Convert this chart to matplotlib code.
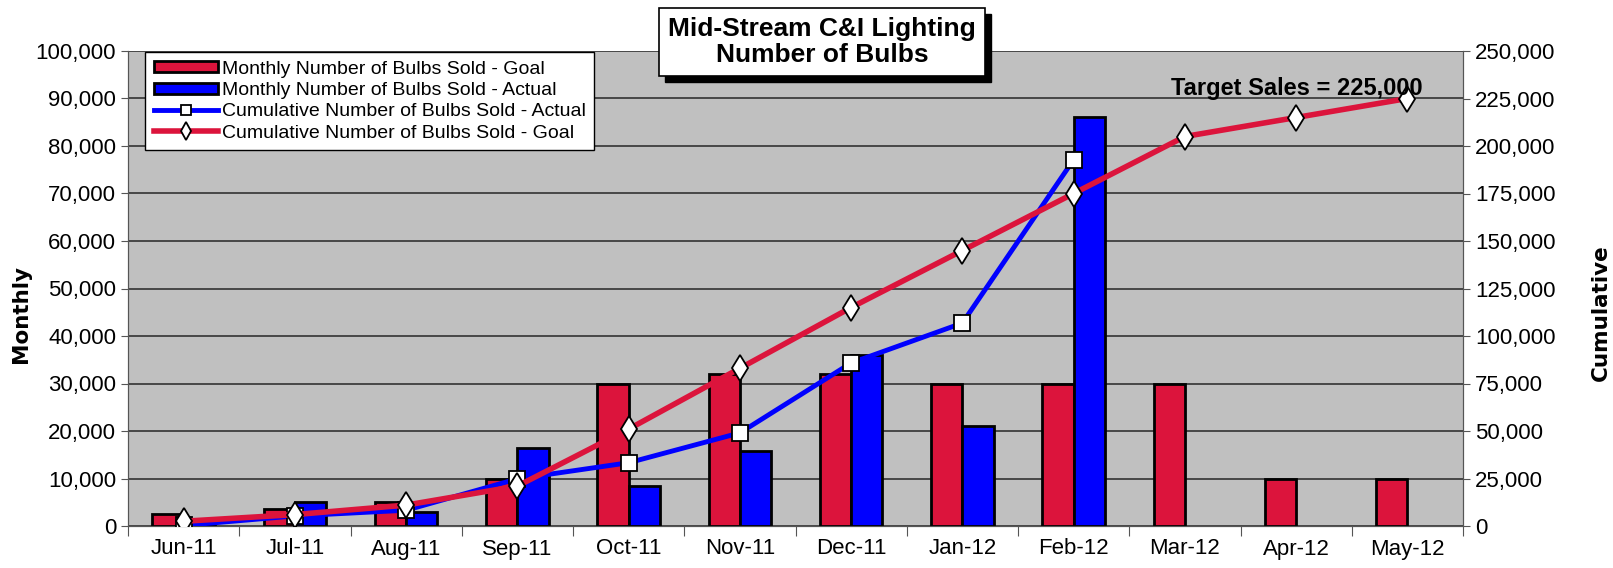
import matplotlib
matplotlib.use("Agg")
import matplotlib.pyplot as plt
import numpy as np
from matplotlib.patches import Rectangle
from matplotlib.ticker import FuncFormatter, MultipleLocator

plt.rcParams["font.family"] = ["Liberation Sans", "DejaVu Sans"]

months = ["Jun-11", "Jul-11", "Aug-11", "Sep-11", "Oct-11", "Nov-11",
          "Dec-11", "Jan-12", "Feb-12", "Mar-12", "Apr-12", "May-12"]
monthly_goal = [2500, 3500, 5000, 10000, 30000, 32000, 32000, 30000, 30000, 30000, 10000, 10000]
monthly_actual = [300, 5000, 3000, 16500, 8500, 15700, 36000, 21000, 86000]
cum_actual = [300, 5300, 8300, 24800, 33300, 49000, 85800, 106800, 192800]
cum_goal = [2500, 6000, 11000, 21000, 51000, 83000, 115000, 145000, 175000, 205000, 215000, 225000]

W, H = 1613, 568
fig = plt.figure(figsize=(W / 100, H / 100), dpi=100)
ax = fig.add_axes([128 / W, 1 - 526 / H, (1463 - 128) / W, (526 - 51) / H])
ax.set_facecolor("#C0C0C0")
ax2 = ax.twinx()

x = np.arange(len(months)) + 0.5
bw = 0.28
ax.bar(x[:len(monthly_goal)] - bw / 2, monthly_goal, bw, color="#DC143C",
       edgecolor="black", linewidth=2, zorder=3, label="Monthly Number of Bulbs Sold - Goal")
ax.bar(x[:len(monthly_actual)] + bw / 2, monthly_actual, bw, color="#0000FF",
       edgecolor="black", linewidth=2, zorder=3, label="Monthly Number of Bulbs Sold - Actual")

la, = ax2.plot(x[:len(cum_actual)], cum_actual, color="#0000FF", lw=3.5,
               marker="s", ms=11, mfc="white", mec="black", mew=1.3,
               label="Cumulative Number of Bulbs Sold - Actual", zorder=4)
lg, = ax2.plot(x[:len(cum_goal)], cum_goal, color="#DC143C", lw=4,
               marker="d", ms=13, mfc="white", mec="black", mew=1.3,
               label="Cumulative Number of Bulbs Sold - Goal", zorder=5)

ax.set_xlim(0, 12)
ax.set_ylim(0, 100000)
ax2.set_ylim(0, 250000)
ax.yaxis.set_major_locator(MultipleLocator(10000))
ax2.yaxis.set_major_locator(MultipleLocator(25000))
fmt = FuncFormatter(lambda v, p: f"{int(v):,}")
ax.yaxis.set_major_formatter(fmt)
ax2.yaxis.set_major_formatter(fmt)
ax.grid(axis="y", color="#333333", lw=1.2, zorder=0)
ax.set_axisbelow(True)

ax.set_xticks(np.arange(0, 13), minor=False)
ax.set_xticklabels([])
ax.set_xticks(x, minor=True)
ax.set_xticklabels(months, minor=True)
ax.tick_params(axis="x", which="major", length=7, direction="out", color="#555555")
ax.tick_params(axis="x", which="minor", length=0, pad=9, labelsize=16)
ax.tick_params(axis="y", length=5, labelsize=16, color="#555555")
ax2.tick_params(axis="y", length=5, labelsize=16, color="#555555")

for a in (ax, ax2):
    a.spines["top"].set_visible(False)
    for s in ("left", "right", "bottom"):
        a.spines[s].set_color("#555555")

fig.text(21 / W, 1 - 314 / H, "Monthly", rotation=90, ha="center", va="center",
         fontsize=15.5, fontweight="bold", family="DejaVu Sans")
fig.text(1601 / W, 1 - 313 / H, "Cumulative", rotation=90, ha="center", va="center",
         fontsize=15.5, fontweight="bold", family="DejaVu Sans")

ax2.text(11.64, 230500, "Target Sales = 225,000", ha="right", va="center",
         fontsize=17, fontweight="bold", zorder=6)

# title box with shadow
bx0, by0, bx1, by1 = 659, 8, 985, 76
fig.patches.append(Rectangle((bx0 / W + 6 / W, 1 - by1 / H - 6 / H), (bx1 - bx0) / W, (by1 - by0) / H,
                             transform=fig.transFigure, facecolor="black", edgecolor="black", zorder=10))
fig.patches.append(Rectangle((bx0 / W, 1 - by1 / H), (bx1 - bx0) / W, (by1 - by0) / H,
                             transform=fig.transFigure, facecolor="white", edgecolor="black", lw=1.2, zorder=11))
fig.text((bx0 + bx1) / 2 / W, 1 - (by0 + by1) / 2 / H, "Mid-Stream C&I Lighting\nNumber of Bulbs",
         ha="center", va="center", fontsize=19, fontweight="bold", linespacing=1.1, zorder=12)

h1, l1 = ax.get_legend_handles_labels()
leg = ax2.legend(h1 + [la, lg], l1 + [la.get_label(), lg.get_label()],
                 loc="upper left", bbox_to_anchor=(145 / W, 1 - 52 / H),
                 bbox_transform=fig.transFigure, borderaxespad=0, fontsize=14,
                 fancybox=False, framealpha=1, edgecolor="black", handlelength=3.3,
                 handleheight=0.5, handletextpad=0.2, labelspacing=0.22, borderpad=0.45,
                 markerscale=0.7)
leg.get_frame().set_linewidth(1)
leg.set_zorder(20)

fig.savefig("out.png", dpi=100)
